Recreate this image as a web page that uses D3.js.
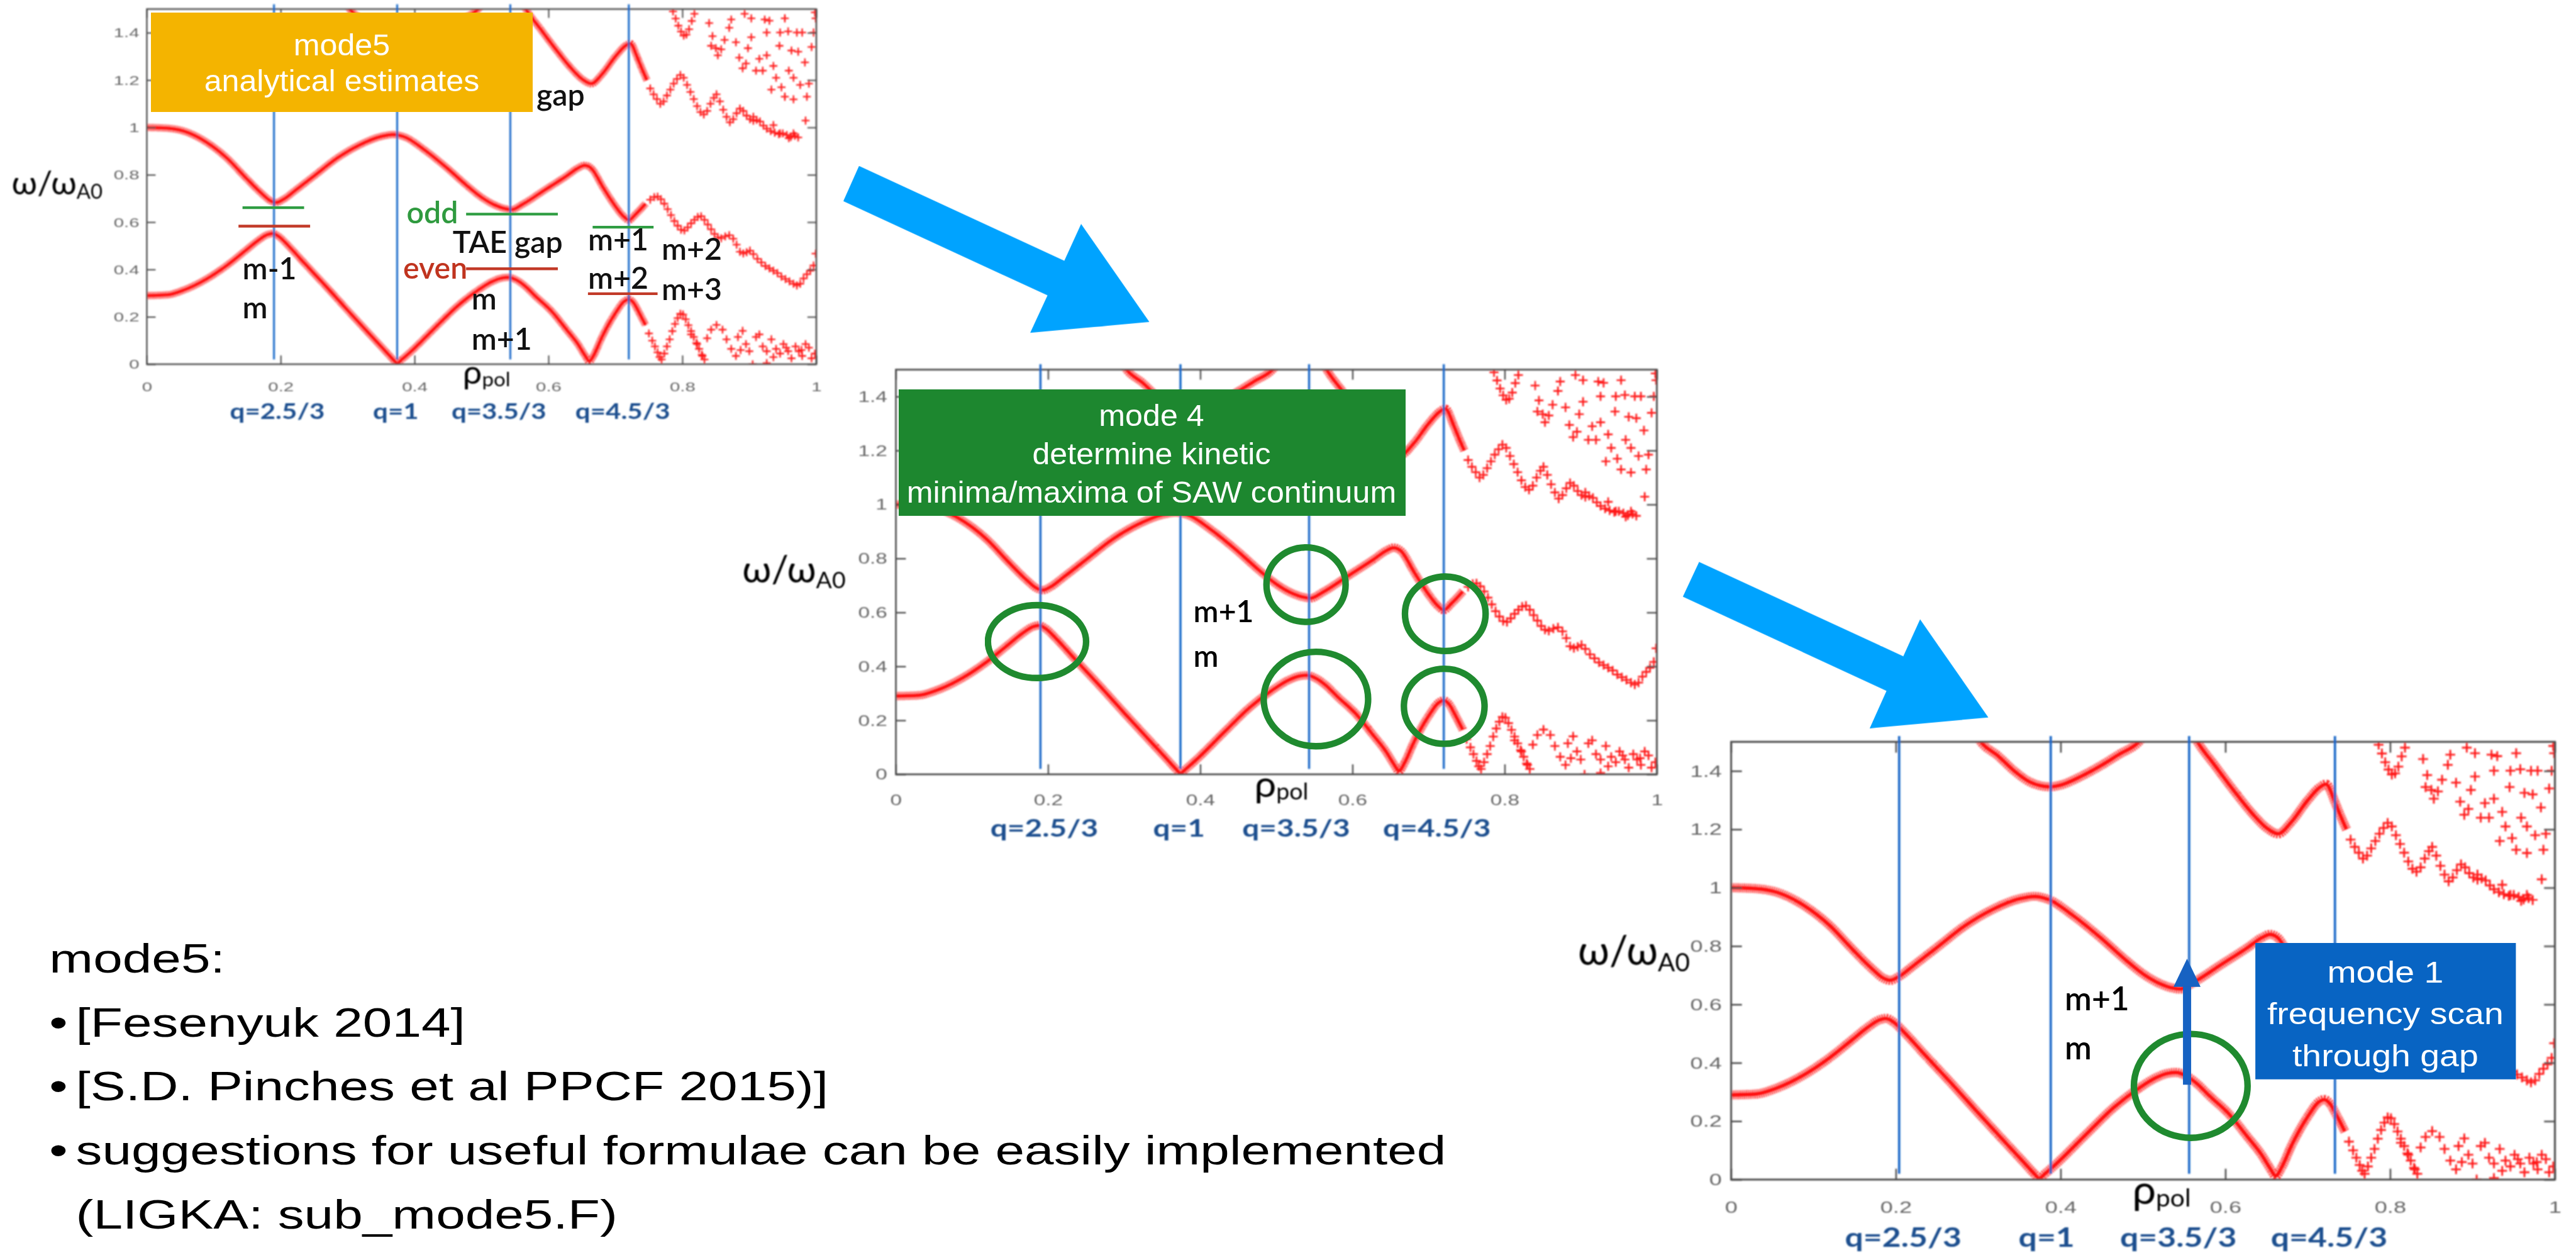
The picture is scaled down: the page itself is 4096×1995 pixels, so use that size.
<!DOCTYPE html>
<html><head><meta charset="utf-8">
<script src="https://cdn.jsdelivr.net/npm/d3@7"></script>
<style>
html,body{margin:0;padding:0;background:#fff;overflow:hidden}
svg{display:block}
</style></head><body>
<svg id="slide" width="4096" height="1995" viewBox="0 0 4756 2316"></svg>
<script>
// ---------------- data ----------------
const xTicks = [0, 0.2, 0.4, 0.6, 0.8, 1];
const yTicks = [0, 0.2, 0.4, 0.6, 0.8, 1, 1.2, 1.4];
const qLabels = ["q=2.5/3", "q=1", "q=3.5/3", "q=4.5/3"];
// radial positions of the rational surfaces (two overlays)
const qSurfA = [0.19, 0.374, 0.543, 0.72];
const qSurfB = [0.204, 0.388, 0.556, 0.733];
const qLabelPosA = [0.195, 0.372, 0.526, 0.711];
const qLabelPosB = [0.209, 0.383, 0.543, 0.726];

// shear Alfven continuum, fine radial grid  [rho_pol, omega/omega_A0]
const lowerBranch = [[0,0.29],[0.03,0.293],[0.055,0.313],[0.088,0.358],[0.12,0.418],[0.147,0.479],[0.165,0.52],[0.18,0.547],[0.188,0.552],[0.197,0.54],[0.21,0.505],[0.235,0.428],[0.268,0.328],[0.30,0.228],[0.333,0.127],[0.355,0.06],[0.368,0.02],[0.374,0.004],[0.381,0.02],[0.392,0.047],[0.432,0.158],[0.465,0.248],[0.494,0.311],[0.515,0.348],[0.53,0.364],[0.54,0.367],[0.552,0.356],[0.565,0.33],[0.581,0.286],[0.604,0.226],[0.627,0.146],[0.644,0.085],[0.655,0.035],[0.661,0.012],[0.668,0.04],[0.68,0.115],[0.70,0.216],[0.713,0.265],[0.72,0.274],[0.727,0.26],[0.735,0.22],[0.745,0.165]];
const middleBranch = [[0,1.0],[0.03,0.997],[0.055,0.985],[0.088,0.94],[0.12,0.87],[0.147,0.79],[0.172,0.72],[0.185,0.69],[0.193,0.683],[0.205,0.698],[0.22,0.73],[0.252,0.80],[0.284,0.87],[0.317,0.925],[0.35,0.962],[0.368,0.97],[0.385,0.96],[0.415,0.905],[0.448,0.83],[0.48,0.75],[0.50,0.705],[0.52,0.672],[0.535,0.657],[0.545,0.653],[0.561,0.675],[0.594,0.735],[0.627,0.795],[0.645,0.83],[0.654,0.84],[0.663,0.83],[0.682,0.745],[0.698,0.675],[0.712,0.625],[0.72,0.609],[0.73,0.633],[0.745,0.678]];
const upperBranchQ1 = [[0.298,1.52],[0.304,1.497],[0.324,1.452],[0.343,1.402],[0.363,1.362],[0.375,1.35],[0.386,1.346],[0.40,1.352],[0.425,1.382],[0.448,1.417],[0.471,1.457],[0.494,1.497],[0.50,1.515]];
const upperBranchOuter = [[0.562,1.52],[0.567,1.496],[0.587,1.42],[0.611,1.33],[0.634,1.25],[0.65,1.205],[0.664,1.185],[0.68,1.225],[0.70,1.30],[0.715,1.345],[0.722,1.355],[0.7335,1.29],[0.74,1.245],[0.747,1.20]];

// coarse radial grid: individual continuum points
const lowerOuterPts = [[0.75,0.13],[0.755,0.10],[0.759,0.075],[0.763,0.05],[0.766,0.03],[0.769,0.02],[0.773,0.045],[0.777,0.075],[0.781,0.105],[0.785,0.14],[0.789,0.17],[0.793,0.195],[0.797,0.213],[0.801,0.21],[0.805,0.19],[0.809,0.165],[0.813,0.14],[0.817,0.115],[0.821,0.09],[0.825,0.065],[0.829,0.04],[0.833,0.02]];
const middleOuterPts = [[0.752,0.695],[0.758,0.706],[0.763,0.708],[0.768,0.697],[0.773,0.678],[0.778,0.655],[0.783,0.63],[0.788,0.605],[0.793,0.585],[0.798,0.568],[0.803,0.565],[0.808,0.578],[0.813,0.595],[0.818,0.61],[0.823,0.622],[0.828,0.625],[0.833,0.61],[0.838,0.59],[0.843,0.57],[0.848,0.55],[0.853,0.536],[0.858,0.532],[0.864,0.54],[0.870,0.545],[0.876,0.53],[0.881,0.505],[0.886,0.475],[0.891,0.468],[0.896,0.473],[0.901,0.48],[0.906,0.465],[0.912,0.445],[0.918,0.43],[0.924,0.415],[0.93,0.405],[0.936,0.395],[0.942,0.385],[0.948,0.37],[0.954,0.36],[0.96,0.35],[0.966,0.34],[0.971,0.333],[0.976,0.34],[0.981,0.362],[0.986,0.38],[0.991,0.395],[0.996,0.417],[0.999,0.467]];
const upperOuterPts = [[0.752,1.165],[0.757,1.14],[0.762,1.12],[0.767,1.10],[0.772,1.11],[0.777,1.135],[0.782,1.16],[0.787,1.185],[0.792,1.205],[0.797,1.222],[0.802,1.21],[0.807,1.18],[0.812,1.15],[0.817,1.12],[0.822,1.09],[0.827,1.065],[0.832,1.055],[0.837,1.07],[0.842,1.10],[0.847,1.125],[0.851,1.14],[0.856,1.11],[0.861,1.075],[0.866,1.045],[0.871,1.022],[0.876,1.035],[0.881,1.06],[0.886,1.08],[0.891,1.07],[0.896,1.05],[0.901,1.035],[0.906,1.028],[0.911,1.032],[0.916,1.025],[0.921,1.008],[0.926,0.995],[0.932,0.985],[0.938,0.978],[0.944,0.972],[0.95,0.975],[0.956,0.968],[0.962,0.96],[0.968,0.965],[0.973,0.958]];
const topDipPts = [[0.786,1.49],[0.79,1.46],[0.794,1.43],[0.798,1.405],[0.802,1.388],[0.806,1.392],[0.81,1.415],[0.814,1.45],[0.818,1.48]];
const upperScatterPts = [[0.840,1.441],[0.845,1.386],[0.843,1.345],[0.850,1.335],[0.853,1.305],[0.858,1.330],[0.863,1.370],[0.870,1.421],[0.873,1.456],[0.880,1.360],[0.885,1.295],[0.890,1.250],[0.893,1.48],[0.895,1.270],[0.898,1.335],[0.903,1.381],[0.903,1.461],[0.910,1.240],[0.915,1.290],[0.920,1.240],[0.923,1.456],[0.926,1.401],[0.926,1.305],[0.930,1.451],[0.933,1.160],[0.936,1.260],[0.940,1.210],[0.945,1.345],[0.946,1.401],[0.948,1.170],[0.953,1.461],[0.953,1.130],[0.958,1.406],[0.959,1.240],[0.963,1.325],[0.966,1.210],[0.966,1.119],[0.971,1.401],[0.973,1.320],[0.976,1.180],[0.979,1.401],[0.983,1.275],[0.984,1.029],[0.986,1.130],[0.989,1.185],[0.993,1.340],[0.996,1.401],[0.998,1.486],[0.999,1.461],[0.906,1.045],[0.936,1.01],[0.946,0.975],[0.959,0.955],[0.966,0.975]];
const lowerScatterPts = [[0.813,0.126],[0.822,0.085],[0.830,0.035],[0.837,0.11],[0.843,0.146],[0.851,0.166],[0.860,0.146],[0.866,0.105],[0.873,0.065],[0.880,0.035],[0.883,0.115],[0.890,0.141],[0.895,0.085],[0.900,0.055],[0.905,0.0],[0.910,0.115],[0.915,0.126],[0.920,0.075],[0.926,0.055],[0.926,0.005],[0.933,0.105],[0.940,0.065],[0.946,0.045],[0.951,0.085],[0.958,0.055],[0.963,0.025],[0.969,0.075],[0.974,0.055],[0.979,0.035],[0.984,0.085],[0.989,0.070],[0.993,0.025],[0.998,0.045],[0.887,0.06],[0.936,0.03],[0.955,0.07],[0.978,0.06]];

// analytical gap estimates (odd / even TAE frequencies): [rho_start, rho_end, omega]
const gapOdd = [[0.143,0.235,0.661],[0.477,0.614,0.634],[0.666,0.757,0.579]];
const gapEven = [[0.137,0.244,0.583],[0.477,0.614,0.403],[0.659,0.763,0.298]];
const estimateLabels = [
  {t:"gap", x:0.582, v:1.092, c:"#111"},
  {t:"odd", x:0.388, v:0.595, c:"#2f9a3f"},
  {t:"TAE gap", x:0.457, v:0.469, c:"#111"},
  {t:"even", x:0.383, v:0.362, c:"#c0341f"},
  {t:"m", x:0.485, v:0.231, c:"#111"},
  {t:"m+1", x:0.485, v:0.062, c:"#111"},
  {t:"m-1", x:0.143, v:0.359, c:"#111"},
  {t:"m", x:0.143, v:0.195, c:"#111"},
  {t:"m+1", x:0.659, v:0.481, c:"#111"},
  {t:"m+2", x:0.769, v:0.44, c:"#111"},
  {t:"m+2", x:0.659, v:0.318, c:"#111"},
  {t:"m+3", x:0.769, v:0.272, c:"#111"}
];
// kinetic extrema highlighted: [rho, omega, half-width (rho), half-height (omega)]
const extremaRings = [[0.1855,0.492,0.0645,0.135],[0.539,0.703,0.052,0.138],[0.552,0.279,0.0686,0.175],[0.722,0.595,0.053,0.138],[0.7206,0.252,0.053,0.139]];
const scanRing = [0.558,0.321,0.069,0.178];
const scanRange = {rho:0.5535, from:0.325, to:0.757};

const modeBoxText = {
  mode5: ["mode5", "analytical estimates"],
  mode4: ["mode 4", "determine kinetic", "minima/maxima of SAW continuum"],
  mode1: ["mode 1", "frequency scan", "through gap"]
};
const notesHeading = "mode5:";
const notesBullets = ["[Fesenyuk 2014]", "[S.D. Pinches et al PPCF 2015)]", "suggestions for useful formulae can be easily implemented"];
const notesTail = "(LIGKA: sub_mode5.F)";

// ---------------- drawing ----------------
const SLIDE_FONT = "'Liberation Sans', Arial, Helvetica, sans-serif";
const GILL = "Lato, 'Open Sans', 'DejaVu Sans', sans-serif";

const svg = d3.select("#slide");
svg.append("rect").attr("width", 4756).attr("height", 2316).attr("fill", "#fff");
const defs = svg.append("defs");
defs.append("filter").attr("id", "soft").attr("x", "-5%").attr("y", "-5%").attr("width", "110%").attr("height", "110%")
  .append("feGaussianBlur").attr("stdDeviation", 1.0);

// text helper: glyphs are widened horizontally by o.wide
function label(parent, px, py, txt, o) {
  const g = parent.append("g").attr("transform", `translate(${px},${py}) scale(${o.wide || 1},1)`);
  const t = g.append("text")
    .attr("text-anchor", o.anchor || "start")
    .attr("font-family", o.font || SLIDE_FONT)
    .attr("font-size", o.size)
    .attr("font-weight", o.weight || "normal")
    .attr("fill", o.fill || "#000");
  if (typeof txt === "function") txt(t); else t.text(txt);
  return t;
}

const layout = [
  {x0: 271, x1: 1507, yb: 672, yt: 16.5, s: 0.8126, q: qSurfA, ql: qLabelPosA, titleX: -0.066, titleV: 0.718, rhoX: 0.472},
  {x0: 1654, x1: 3059, yb: 1429, yt: 682, s: 0.9237, q: qSurfA, ql: qLabelPosA, titleX: -0.066, titleV: 0.711, rhoX: 0.471},
  {x0: 3196, x1: 4717, yb: 2177, yt: 1369, s: 1.0, q: qSurfB, ql: qLabelPosB, titleX: -0.05, titleV: 0.735, rhoX: 0.487}
];

function drawPanel(L, idx) {
  const s = L.s;
  const x = d3.scaleLinear().domain([0, 1]).range([L.x0, L.x1]);
  const y = d3.scaleLinear().domain([0, 1.5]).range([L.yb, L.yt]);
  const root = svg.append("g").attr("class", "panel" + idx);
  const img = root.append("g").attr("filter", "url(#soft)");

  const cid = "plotclip" + idx;
  defs.append("clipPath").attr("id", cid).append("rect")
    .attr("x", L.x0).attr("y", L.yt).attr("width", L.x1 - L.x0).attr("height", L.yb - L.yt);
  const plot = img.append("g").attr("clip-path", `url(#${cid})`);

  // continuum on the fine grid: thick hatched band of markers
  const line = d3.line().x(d => x(d[0])).y(d => y(d[1])).curve(d3.curveMonotoneX);
  [lowerBranch, middleBranch, upperBranchQ1, upperBranchOuter].forEach(b => {
    plot.append("path").attr("d", line(b)).attr("fill", "none")
      .attr("stroke", "#ff2a2a").attr("stroke-width", 17 * s)
      .attr("stroke-dasharray", `${2.2 * s} ${1.7 * s}`);
    plot.append("path").attr("d", line(b)).attr("fill", "none")
      .attr("stroke", "#ff0f0f").attr("stroke-width", 6 * s);
  });

  // continuum on the coarse grid: "+" markers
  const h = 9 * s;
  const pts = [].concat(lowerOuterPts, middleOuterPts, upperOuterPts, topDipPts, upperScatterPts, lowerScatterPts);
  plot.selectAll("path.pt").data(pts).join("path").attr("class", "pt")
    .attr("d", d => `M${x(d[0]) - h},${y(d[1])}h${2 * h}M${x(d[0])},${y(d[1]) - h}v${2 * h}`)
    .attr("fill", "none").attr("stroke", "#ff1a1a").attr("stroke-width", 3.3 * s);

  // axes with inward ticks on all four sides
  const tl = 20 * s;
  const axes = img.append("g");
  const fmt = d3.format("~g");
  const left = axes.append("g").attr("transform", `translate(${L.x0},0)`)
    .call(d3.axisLeft(y).tickValues(yTicks).tickSizeInner(-tl).tickSizeOuter(0).tickFormat(fmt));
  axes.append("g").attr("transform", `translate(${L.x1},0)`)
    .call(d3.axisRight(y).tickValues(yTicks).tickSizeInner(-tl).tickSizeOuter(0).tickFormat(""));
  axes.append("g").attr("transform", `translate(0,${L.yt})`)
    .call(d3.axisTop(x).tickValues(xTicks).tickSizeInner(-tl).tickSizeOuter(0).tickFormat(""));
  const bottom = axes.append("g").attr("transform", `translate(0,${L.yb})`)
    .call(d3.axisBottom(x).tickValues(xTicks).tickSizeInner(-tl).tickSizeOuter(0).tickFormat(fmt));
  axes.selectAll(".domain").remove();
  axes.selectAll(".tick line").attr("stroke", "#505050").attr("stroke-width", 3 * s);
  left.selectAll(".tick text")
    .attr("x", 0).attr("dy", 0).attr("y", 0)
    .attr("transform", `translate(${-17 * s},${10 * s}) scale(1.4,1)`)
    .attr("font-family", SLIDE_FONT).attr("font-size", 30 * s).attr("fill", "#666");
  bottom.selectAll(".tick text")
    .attr("x", 0).attr("dy", 0).attr("y", 0)
    .attr("transform", `translate(0,${62 * s}) scale(1.4,1)`)
    .attr("font-family", SLIDE_FONT).attr("font-size", 30 * s).attr("fill", "#666");

  img.append("rect").attr("x", L.x0).attr("y", L.yt)
    .attr("width", L.x1 - L.x0).attr("height", L.yb - L.yt)
    .attr("fill", "none").attr("stroke", "#4c4c4c").attr("stroke-width", 3.5 * s);

  // rational surfaces
  img.selectAll("line.qs").data(L.q).join("line").attr("class", "qs")
    .attr("x1", d => x(d)).attr("x2", d => x(d))
    .attr("y1", y(1.52)).attr("y2", y(0.02))
    .attr("stroke", "#1766c8").attr("stroke-width", 4.2 * s);

  // axis titles and q labels
  label(img, x(L.rhoX), L.yb + 45 * s, t => {
    t.append("tspan").attr("font-size", 74 * s).text("ρ");
    t.append("tspan").attr("font-size", 45 * s).attr("dy", 5 * s).text("pol");
  }, {size: 74 * s, font: GILL, wide: 1.05});
  label(img, x(L.titleX), y(L.titleV), t => {
    t.append("tspan").attr("font-size", 76 * s).text("ω/ω");
    t.append("tspan").attr("font-size", 47 * s).attr("dy", 11 * s).text("A0");
  }, {size: 76 * s, font: GILL, anchor: "end", wide: 1.0});
  L.ql.forEach((p, i) => {
    label(img, x(p), L.yb + 124 * s, qLabels[i], {size: 48 * s, font: GILL, weight: "bold", fill: "#1f4f8f", anchor: "middle", wide: 1.25});
  });

  return {x, y, s, root};
}

const P = layout.map(drawPanel);

// ---- panel 1: analytical estimates ----
{
  const {x, y, root} = P[0];
  gapOdd.forEach(d => root.append("line").attr("x1", x(d[0])).attr("x2", x(d[1])).attr("y1", y(d[2])).attr("y2", y(d[2]))
    .attr("stroke", "#2f9d42").attr("stroke-width", 5));
  gapEven.forEach(d => root.append("line").attr("x1", x(d[0])).attr("x2", x(d[1])).attr("y1", y(d[2])).attr("y2", y(d[2]))
    .attr("stroke", "#c23a28").attr("stroke-width", 5));
  estimateLabels.forEach(d => label(root, x(d.x), y(d.v), d.t, {size: 56, font: GILL, fill: d.c, weight: 600, wide: 1.0}));
  root.append("rect").attr("x", 279).attr("y", 23).attr("width", 704).attr("height", 183).attr("fill", "#f4b400");
  modeBoxText.mode5.forEach((t, i) => label(root, 631, 102 + i * 66, t, {size: 56, fill: "#fff", anchor: "middle", wide: 1.04}));
}

// ---- panel 2: kinetic extrema ----
{
  const {x, y, root} = P[1];
  root.append("rect").attr("x", 1659).attr("y", 719).attr("width", 935).attr("height", 233).attr("fill", "#1d872f");
  modeBoxText.mode4.forEach((t, i) => label(root, 2126, 786 + i * 70.5, t, {size: 56, fill: "#fff", anchor: "middle", wide: 1.04}));
  extremaRings.forEach(d => root.append("ellipse")
    .attr("cx", x(d[0])).attr("cy", y(d[1]))
    .attr("rx", x(d[2]) - x(0)).attr("ry", y(0) - y(d[3]))
    .attr("fill", "none").attr("stroke", "#1f8a2f").attr("stroke-width", 12));
  label(root, x(0.391), y(0.564), "m+1", {size: 56, font: GILL, weight: 600, wide: 1.0});
  label(root, x(0.391), y(0.398), "m", {size: 56, font: GILL, weight: 600, wide: 1.0});
}

// ---- panel 3: frequency scan ----
{
  const {x, y, root} = P[2];
  label(root, x(0.405), y(0.579), "m+1", {size: 60, font: GILL, weight: 600, wide: 1.0});
  label(root, x(0.405), y(0.412), "m", {size: 60, font: GILL, weight: 600, wide: 1.0});
  root.append("ellipse")
    .attr("cx", x(scanRing[0])).attr("cy", y(scanRing[1]))
    .attr("rx", x(scanRing[2]) - x(0)).attr("ry", y(0) - y(scanRing[3]))
    .attr("fill", "none").attr("stroke", "#1f8a2f").attr("stroke-width", 12);
  const ax = x(scanRange.rho), yTip = y(scanRange.to), yBase = y(scanRange.from);
  root.append("rect").attr("x", ax - 7.5).attr("y", yTip + 45).attr("width", 15).attr("height", yBase - yTip - 45).attr("fill", "#1762c2");
  root.append("path").attr("d", `M${ax},${yTip}L${ax + 25},${yTip + 52}L${ax - 25},${yTip + 52}Z`).attr("fill", "#1762c2");
  root.append("rect").attr("x", 4164).attr("y", 1740).attr("width", 481).attr("height", 252).attr("fill", "#0864c3");
  modeBoxText.mode1.forEach((t, i) => label(root, 4404, 1813 + i * 77.5, t, {size: 55, fill: "#fff", anchor: "middle", wide: 1.17}));
}

// ---- workflow arrows ----
const arrowShapes = [
  [[1586,306],[1965,481],[1996,413],[2122,594],[1902,614],[1934,545],[1557,371]],
  [[3137,1037],[3514,1211],[3545,1143],[3671,1324],[3452,1344],[3483,1275],[3107,1101]]
];
arrowShapes.forEach(a => svg.append("path").attr("d", d3.line()(a) + "Z").attr("fill", "#00a3ff"));

// ---- notes ----
{
  const g = svg.append("g");
  const base = 1795, step = 118;
  const o = {size: 76, wide: 1.28};
  label(g, 91, base, notesHeading, o);
  notesBullets.forEach((t, i) => {
    label(g, 91, base + (i + 1) * step, "•", o);
    label(g, 140, base + (i + 1) * step, t, o);
  });
  label(g, 140, base + 4 * step, notesTail, o);
}
</script>
</body></html>
